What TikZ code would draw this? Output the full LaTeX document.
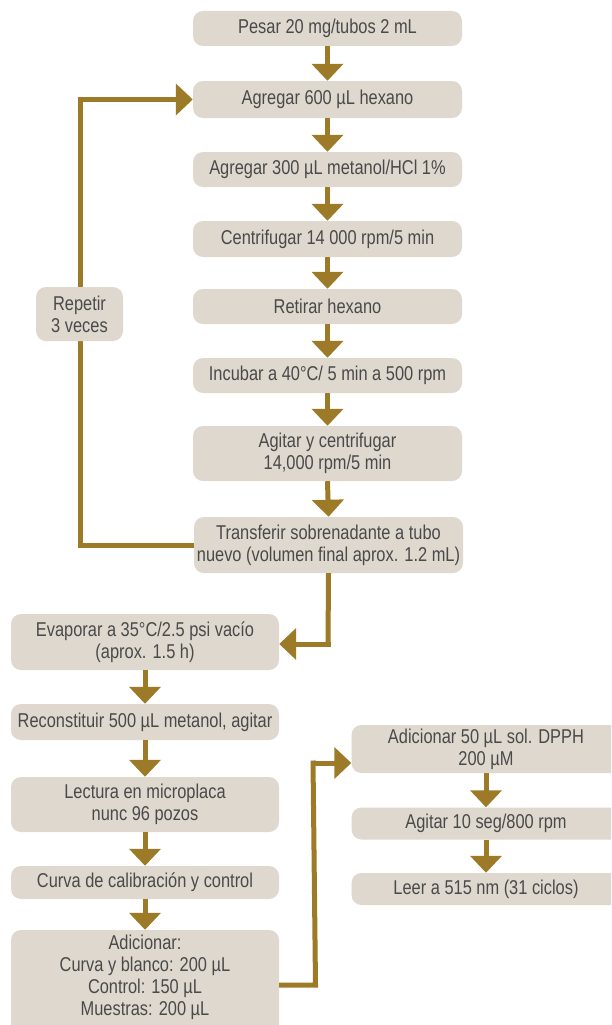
\documentclass[tikz,border=0pt]{standalone}
\usepackage{fontspec}
\setmainfont{Liberation Sans}[FakeStretch=0.82]
\usetikzlibrary{arrows.meta}
\definecolor{boxfill}{HTML}{DED8CE}
\definecolor{flow}{HTML}{9C7A28}
\definecolor{ink}{HTML}{4A4A4A}
\begin{document}
\begin{tikzpicture}[x=1pt,y=-1pt,
  stepbox/.style={fill=boxfill,rounded corners=10pt,minimum width=269pt,inner sep=0pt,
    align=center,text=ink,font=\fontsize{20}{22}\selectfont},
  flowline/.style={draw=flow,line width=5pt},
  flowarrow/.style={flowline,-{Triangle[width=31pt,length=17pt]}},
  ]
\useasboundingbox (0,0) rectangle (611,1025);
\clip (0,0) rectangle (611,1025);
% main column
\node[stepbox,minimum height=35pt] (p1) at (327.5,28.5) {Pesar 20 mg/tubos 2 mL};
\node[stepbox,minimum height=37pt] (p2) at (327.5,99.5) {Agregar 600 µL hexano};
\node[stepbox,minimum height=35pt] (p3) at (327.5,169.5) {Agregar 300 µL metanol/HCl 1\%};
\node[stepbox,minimum height=36pt] (p4) at (327.5,239) {Centrifugar 14 000 rpm/5 min};
\node[stepbox,minimum height=35pt] (p5) at (327.5,306.5) {Retirar hexano};
\node[stepbox,minimum height=35pt] (p6) at (327.5,375.5) {Incubar a 40°C/ 5 min a 500 rpm};
\node[stepbox,minimum height=55pt] (p7) at (327.5,453.5) {Agitar y centrifugar\\14,000 rpm/5 min};
\node[stepbox,minimum height=56pt] (p8) at (328.5,545) {Transferir sobrenadante a tubo\\nuevo (volumen final aprox. 1.2 mL)};
% second column
\node[stepbox,minimum width=268pt,minimum height=56pt] (e1) at (145,642) {Evaporar a 35°C/2.5 psi vacío\\(aprox. 1.5 h)};
\node[stepbox,minimum width=268pt,minimum height=36pt] (e2) at (145,722) {Reconstituir 500 µL metanol, agitar};
\node[stepbox,minimum width=268pt,minimum height=55pt] (e3) at (145,804.5) {Lectura en microplaca\\nunc 96 pozos};
\node[stepbox,minimum width=268pt,minimum height=33pt] (e4) at (145,882.5) {Curva de calibración y control};
% the last box runs past the lower edge of the page
\fill[boxfill,rounded corners=10pt] (11,930) rectangle (279,1045);
\node[stepbox,fill=none,minimum width=268pt,minimum height=95pt] (e5) at (145,977.5) {Adicionar:\\Curva y blanco: 200 µL\\Control: 150 µL\\Muestras: 200 µL};
% third column
\node[stepbox,minimum height=48pt] (r1) at (486,749) {Adicionar 50 µL sol. DPPH\\200 µM};
\node[stepbox,minimum height=32pt] (r2) at (486,823.5) {Agitar 10 seg/800 rpm};
\node[stepbox,minimum height=32pt] (r3) at (486,889) {Leer a 515 nm (31 ciclos)};
% straight arrows
\foreach \a/\b in {p1/p2,p2/p3,p3/p4,p4/p5,p5/p6,p6/p7,p7/p8,e1/e2,e2/e3,e3/e4,e4/e5,r1/r2,r2/r3}
  \draw[flowarrow] (\a.south) -- (\b.north);
% repeat loop
\coordinate (loopx) at (80,0);
\draw[flowline] (p8.west) -- (p8.west -| loopx) -- (p2.west -| loopx);
\draw[flowarrow] ([xshift=-2.5pt]p2.west -| loopx) -- (p2.west);
\node[stepbox,minimum width=87pt,minimum height=54pt] (rep) at (79.5,314) {Repetir\\3 veces};
% transfer to evaporation
\coordinate (turn1) at (328,644);
\draw[flowline] (p8.south) -- ([yshift=-2.5pt]turn1);
\draw[flowarrow] ([xshift=2.5pt]turn1) -- (turn1 -| e1.east);
% addition to DPPH
\coordinate (turn2) at (313,985);
\coordinate (turn3) at (313,763);
\draw[flowline] (turn2 -| e5.east) -- ([xshift=2.5pt]turn2) -- ([yshift=2.5pt]turn3);
\draw[flowarrow] ([xshift=-2.5pt]turn3) -- (turn3 -| r1.west);
\end{tikzpicture}
\end{document}
